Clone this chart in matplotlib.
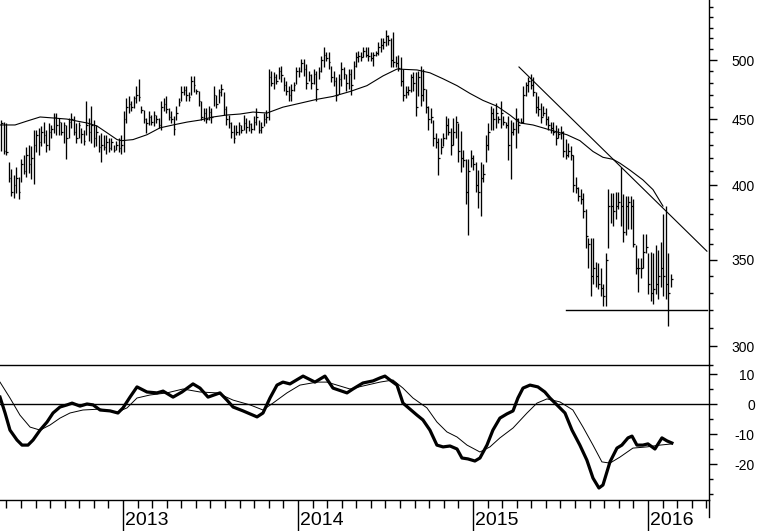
#weekly-ish bar chart with moving average and oscillator
import numpy as np
import matplotlib.pyplot as plt
from matplotlib.ticker import NullFormatter
from matplotlib.transforms import blended_transform_factory
from matplotlib.lines import Line2D

plt.rcParams['font.family'] = ['Liberation Sans', 'DejaVu Sans']
plt.rcParams['axes.unicode_minus'] = False

#bars: first bar date (decimal year) and bars per year
first_bar = 2012.303
bars_per_year = 70

high = [449, 448, 447, 417, 411.5, 407, 413, 406, 419, 422, 428, 430, 429, 441, 441, 443, 444.5, 448, 441, 447,
        445, 455, 455, 451, 448, 448, 445, 451, 455, 452.5, 447, 448, 443, 441, 465, 451, 461, 449, 445, 437.6,
        439, 437, 437, 435, 435, 430, 433, 435, 437, 456.5,
        467, 468.6, 464.5, 469, 477, 483.6, 461, 457, 451, 456.5, 453, 456.5, 453, 451, 464.5, 467, 468.6, 459,
        456.5, 452.5, 461, 467, 477, 477, 477.7, 472.7, 486, 486, 475, 473.5, 465, 459, 459, 460.5, 459, 477.7,
        469.4, 475, 479, 472.7, 461, 453, 448, 445, 445, 448, 445, 453,
        451, 449, 447, 452.5, 459, 449, 448, 455, 457, 492, 490, 489.6, 488, 494, 494.7, 485, 482, 477.7, 479,
        481, 494, 494, 501, 501, 496.5, 490, 488, 492, 490, 494, 503.5, 511.6, 507, 507, 494.7, 490, 485, 488,
        498, 494, 488, 492, 492, 499, 507, 508, 507, 511.6,
        511.6, 511.6, 507, 507, 508, 516, 520.6, 520.6, 528, 523.4, 520.6, 526, 503.5, 505, 502.7, 492, 477.7,
        477.7, 488, 489.6, 489.6, 490, 494.7, 492, 475, 461, 459, 449, 439, 435, 435, 439, 452.5, 451, 443, 451,
        452.5, 447, 440.7, 426, 419, 419, 426, 421.8, 416.6, 410.8, 416.6, 415, 437,
        447, 461, 459, 463, 452.5, 464.5, 452.5, 448, 452.5, 449, 448, 459, 451, 451, 477, 481, 485, 488, 485,
        472.7, 468.6, 463, 461, 459, 452.5, 448, 448, 445, 443, 444.5, 440.7, 434, 431.5, 429, 421.8, 406,
        398.8, 397.4, 394, 383, 364, 363.6, 363.6, 348.7, 348, 345, 335, 354.2,
        397.4, 394, 394, 395.3, 395.3, 413, 393.3, 392, 392, 392, 390, 359.2, 351, 351, 366.8, 366.8, 354.2,
        354.8, 354.2, 359.2, 356, 361, 379.8, 385.2, 354.2, 341]
low = [425, 422.5, 422, 402, 392, 390.6, 394, 390, 402, 408, 406, 409, 404, 401, 424, 422, 429, 431.5, 424, 425.5,
       435, 439, 437.6, 437, 437.6, 431.5, 419, 435, 443, 437.6, 431.5, 435, 431.5, 430, 437.6, 433, 431.5, 428,
       429, 424, 417, 425.5, 422.5, 424, 426, 424, 425.5, 424, 422.5, 424,
       447, 455, 456.5, 459, 463, 465, 455, 447, 439, 445, 445, 444.5, 447, 443, 441, 456.5, 455, 449, 447,
       437.6, 449, 460.5, 464.5, 469.4, 464.5, 464.5, 469.4, 472.7, 471, 461, 449, 448.4, 447, 449, 447, 461,
       459, 463, 468.6, 453, 445, 443, 435, 431.5, 437.6, 437, 439, 441,
       439, 440.7, 439, 441, 445, 439, 439, 444.5, 447, 449, 477, 475, 479, 483.6, 481, 473.5, 469.4, 465, 465,
       473.5, 479, 485, 489.6, 486, 475, 482, 475, 479, 465, 483.6, 489.6, 494, 499, 492, 481, 477.7, 464.5,
       471, 477, 483.6, 473.5, 475, 469.4, 483.6, 494, 498, 499, 502.7,
       502.7, 499, 499, 494.7, 503.5, 505, 507, 510, 512.5, 514, 494, 494, 494, 490, 477.7, 464.5, 467, 469.4,
       472.7, 473.5, 452.5, 468.6, 460.5, 464.5, 455, 441, 447, 429, 427.7, 407, 422.5, 429, 434, 437, 421.8,
       430, 435, 416.6, 409.4, 413, 386.5, 365.5, 413, 410.8, 395.3, 383.8, 378.5, 402.3, 416.6,
       425.5, 441, 441, 443, 447, 443, 445, 443, 418, 404.4, 437.6, 427.7, 439, 447, 447, 468.6, 472.7, 475,
       468.6, 455, 452.5, 447, 452.5, 445, 441, 439, 437.6, 430, 435, 434, 420.3, 419, 420.3, 418, 395.3, 394,
       388.5, 386.5, 377, 357.3, 345, 328, 335, 333.3, 332, 328, 322.5, 322,
       357.3, 373.9, 371.9, 376.5, 383, 371.9, 361, 365.5, 370, 370, 357.9, 341, 330.4, 339, 345, 354.2, 329.3,
       325.3, 323.6, 329.3, 326.4, 333.3, 328, 326.4, 310.9, 333.3]
close = [447, 425, 424, 405, 395, 400, 405, 395, 415, 410, 422, 415, 420, 430, 437, 432, 440, 437, 430, 440,
         442, 452, 445, 448, 440, 445, 435, 448, 450, 440, 435, 445, 438, 433, 445, 440, 445, 435, 440, 428,
         430, 428, 432, 427, 432, 426, 430, 427, 430, 450,
         460, 462, 460, 467, 470, 468, 457, 450, 447, 452, 448, 453, 450, 445, 460, 462, 458, 452, 450, 442,
         455, 464, 472, 474, 470, 468, 482, 478, 473, 465, 452, 455, 450, 456, 452, 470, 462, 472, 475, 458,
         450, 447, 440, 435, 440, 445, 441, 447,
         444, 446, 442, 448, 452, 441, 444, 450, 452, 485, 480, 485, 482, 490, 487, 478, 473, 470, 474, 478,
         490, 490, 497, 492, 480, 487, 480, 488, 475, 490, 500, 505, 502, 498, 485, 482, 470, 483, 492, 488,
         480, 488, 478, 495, 503, 504, 503, 508,
         505, 504, 502, 505, 506, 512, 514, 516, 522, 518, 500, 498, 497, 493, 482, 470, 472, 474, 485, 480,
         460, 485, 470, 475, 460, 450, 452, 435, 432, 420, 428, 435, 445, 440, 430, 440, 448, 425, 420, 418,
         395, 410, 420, 415, 400, 395, 405, 408, 430,
         440, 455, 450, 455, 450, 455, 448, 445, 430, 440, 442, 450, 445, 448, 470, 478, 482, 478, 472, 460,
         458, 452, 455, 450, 445, 443, 440, 435, 438, 440, 425, 422, 425, 422, 400, 398, 392, 390, 382, 365,
         360, 340, 345, 340, 335, 333, 328, 350,
         385, 385, 382, 385, 388, 385, 368, 385, 388, 385, 360, 345, 345, 345, 355, 358, 335, 330, 332, 335,
         340, 345, 340, 335, 330, 338]

#moving average
ma_year = [2012.297, 2012.383, 2012.451, 2012.526, 2012.6, 2012.68, 2012.737, 2012.794, 2012.851, 2012.909,
           2012.966, 2012.994, 2013.057, 2013.137, 2013.211, 2013.286, 2013.366, 2013.44, 2013.514, 2013.594,
           2013.669, 2013.743, 2013.823, 2013.914, 2014.011, 2014.109, 2014.2, 2014.297, 2014.394, 2014.486,
           2014.566, 2014.68, 2014.754, 2014.829, 2014.909, 2014.983, 2015.057, 2015.137, 2015.211, 2015.269,
           2015.343, 2015.44, 2015.537, 2015.611, 2015.686, 2015.743, 2015.8, 2015.84, 2015.897, 2015.971,
           2016.029, 2016.086]
ma_val = [445.3, 445.3, 448.4, 451.7, 450.9, 450, 448.4, 446.9, 444.5, 439.1, 433.8, 433, 433.8, 437.6, 443,
          445.3, 447.6, 449.2, 451.7, 453.3, 454.1, 455.7, 454.9, 459.7, 462.9, 466.2, 468.6, 472.7, 477.7,
          486.1, 492.1, 491.3, 488.8, 483.6, 477.7, 471.1, 465.3, 460.5, 453.3, 446.9, 445.3, 441.4, 437.6, 433,
          424.7, 420.3, 418.8, 415.9, 410.8, 403.7, 396.7, 385.2]

#trend line and support line
trend_year = [2015.263, 2016.337]
trend_val = [493.9, 355.4]
support_year = [2015.531, 2016.337]
support_val = [320, 320]

#oscillator (thick) and its signal (thin)
osc_year = [2012.297, 2012.326, 2012.354, 2012.394, 2012.423, 2012.457, 2012.486, 2012.526, 2012.566, 2012.6,
            2012.64, 2012.68, 2012.709, 2012.754, 2012.794, 2012.829, 2012.869, 2012.926, 2012.971, 2013.0,
            2013.04, 2013.08, 2013.137, 2013.194, 2013.229, 2013.286, 2013.337, 2013.4, 2013.44, 2013.486,
            2013.554, 2013.594, 2013.629, 2013.686, 2013.766, 2013.8, 2013.84, 2013.88, 2013.914, 2013.954,
            2014.029, 2014.097, 2014.154, 2014.2, 2014.28, 2014.314, 2014.371, 2014.429, 2014.469, 2014.497,
            2014.526, 2014.566, 2014.6, 2014.64, 2014.68, 2014.714, 2014.754, 2014.794, 2014.829, 2014.869,
            2014.909, 2014.937, 2014.971, 2015.011, 2015.04, 2015.08, 2015.114, 2015.154, 2015.194, 2015.229,
            2015.257, 2015.286, 2015.326, 2015.371, 2015.411, 2015.44, 2015.48, 2015.526, 2015.566, 2015.611,
            2015.651, 2015.686, 2015.72, 2015.743, 2015.783, 2015.823, 2015.851, 2015.886, 2015.909, 2015.937,
            2015.971, 2016.0, 2016.04, 2016.08, 2016.109, 2016.137]
osc_val = [2.3, -3, -8.7, -12, -13.7, -13.7, -12, -8.7, -6, -3,
           -1, -0.3, 0.3, -0.7, 0, -0.3, -2, -2.3, -3, -1.3,
           2.3, 5.7, 4, 3.7, 4.3, 2.3, 4, 6.7, 5.3, 2.3,
           3.7, 1.3, -1, -2.3, -4.3, -3, 2, 6.3, 7.3, 6.7,
           9.3, 7.3, 9.3, 5.3, 3.7, 5, 7, 7.7, 8.7, 9.3,
           8, 6.3, 0.3, -1.7, -3.7, -5.3, -8.7, -13.7, -14.3, -14,
           -15, -18, -18.3, -19, -18, -13.7, -8.7, -4.7, -3.3, -2.3,
           2, 5.3, 6.3, 5.7, 4, 2, -0.3, -3, -8.7, -13.7,
           -18.7, -24.7, -28, -27, -19.3, -14.7, -13.7, -11.3, -10.7, -13.7,
           -13.7, -13.3, -15, -11.3, -12.3, -13]
sig_year = [2012.297, 2012.354, 2012.411, 2012.469, 2012.526, 2012.583, 2012.64, 2012.697, 2012.771, 2012.869,
            2012.966, 2013.023, 2013.08, 2013.154, 2013.251, 2013.343, 2013.44, 2013.537, 2013.629, 2013.726,
            2013.8, 2013.857, 2013.937, 2014.011, 2014.109, 2014.166, 2014.297, 2014.394, 2014.469, 2014.543,
            2014.6, 2014.657, 2014.737, 2014.794, 2014.851, 2014.909, 2014.966, 2015.04, 2015.097, 2015.154,
            2015.229, 2015.309, 2015.366, 2015.423, 2015.497, 2015.571, 2015.629, 2015.686, 2015.737, 2015.783,
            2015.84, 2015.914, 2015.994, 2016.069, 2016.137]
sig_val = [7.3, 2, -3.7, -7.7, -8.7, -7, -4.7, -3, -2, -1.7,
           -2.7, -1.3, 2, 3, 3.7, 5, 4, 3.7, 1.3, -0.3,
           -2, 0.3, 3.7, 6.3, 7.3, 7.3, 5, 6.3, 7.3, 8,
           5.3, 2, -1.3, -6, -9.3, -11, -13.7, -16, -14.3, -11.3,
           -8, -3, 0.3, 1.7, 0.7, -2, -7.7, -13.7, -19.3, -19.7,
           -17.7, -14.7, -14.3, -13.7, -13.3]

years = [2013, 2014, 2015, 2016]
price_major = [300, 350, 400, 450, 500]
osc_major = [-20, -10, 0, 10]

#figure
W, H = 760, 531
fig = plt.figure(figsize=(W / 100, H / 100), dpi=100)
ax = fig.add_axes([0, 1 - 365 / H, 709 / W, 365 / H])
ax2 = fig.add_axes([0, 1 - 500 / H, 709 / W, 135 / H])
xlim = (2012.297, 2016.349)

bar_x = first_bar + np.arange(len(high)) / bars_per_year
tick_w = 1.8 / 175
ax.vlines(bar_x, low, high, color='black', lw=0.95)
ax.hlines(close, bar_x, bar_x + tick_w, color='black', lw=0.9)
ax.plot(ma_year, ma_val, color='black', lw=0.8)
ax.plot(trend_year, trend_val, color='black', lw=0.8)
ax.plot(support_year, support_val, color='black', lw=1.0)

ax.set_yscale('log')
ax.set_ylim(292.8, 556.7)
ax.set_xlim(*xlim)
for s in ['left', 'top', 'bottom']:
    ax.spines[s].set_visible(False)
ax.spines['right'].set_linewidth(1.0)
ax.set_xticks([])
ax.yaxis.tick_right()
ax.set_yticks(price_major)
ax.set_yticks([v for v in range(290, 551, 10) if v not in price_major], minor=True)
ax.set_yticklabels([str(v) for v in price_major])
ax.yaxis.set_minor_formatter(NullFormatter())
ax.tick_params(axis='y', which='major', length=6, width=1, pad=27, labelsize=10)
ax.tick_params(axis='y', which='minor', length=3, width=1)
for lab in ax.get_yticklabels():
    lab.set_ha('right')

#oscillator panel
ax2.plot(osc_year, osc_val, color='black', lw=2.3, solid_joinstyle='round')
ax2.plot(sig_year, sig_val, color='black', lw=0.7)
ax2.axhline(0, color='black', lw=1.0)
ax2.set_xlim(*xlim)
ax2.set_ylim(-32, 13)
ax2.spines['left'].set_visible(False)
for s in ['top', 'bottom', 'right']:
    ax2.spines[s].set_linewidth(1.0)
ax2.yaxis.tick_right()
ax2.set_yticks(osc_major)
ax2.set_yticks([-30, -25, -15, -5, 5], minor=True)
ax2.set_yticklabels([str(v) for v in osc_major])
ax2.yaxis.set_minor_formatter(NullFormatter())
ax2.tick_params(axis='y', which='major', length=6, width=1, pad=27, labelsize=10)
ax2.tick_params(axis='y', which='minor', length=3, width=1)
for lab in ax2.get_yticklabels():
    lab.set_ha('right')

ax2.set_xticks(years)
ax2.set_xticklabels([])
ax2.set_xticks([2012 + m / 12 for m in range(4, 53) if m % 12 != 0], minor=True)
ax2.tick_params(axis='x', which='major', length=23, width=1, direction='out')
ax2.tick_params(axis='x', which='minor', length=6, width=1, direction='out')
tr = blended_transform_factory(ax2.transData, ax2.transAxes)
for yr in years:
    ax2.annotate(str(yr), xy=(yr, 0), xycoords=tr, xytext=(1.5, -14.5),
                 textcoords='offset points', ha='left', va='center', fontsize=14)

#right axis runs a bit below the bottom axis
fig.add_artist(Line2D([709 / W, 709 / W], [1 - 500 / H, 1 - 517 / H], color='black', lw=1.0))

fig.savefig('out.png', dpi=100)
